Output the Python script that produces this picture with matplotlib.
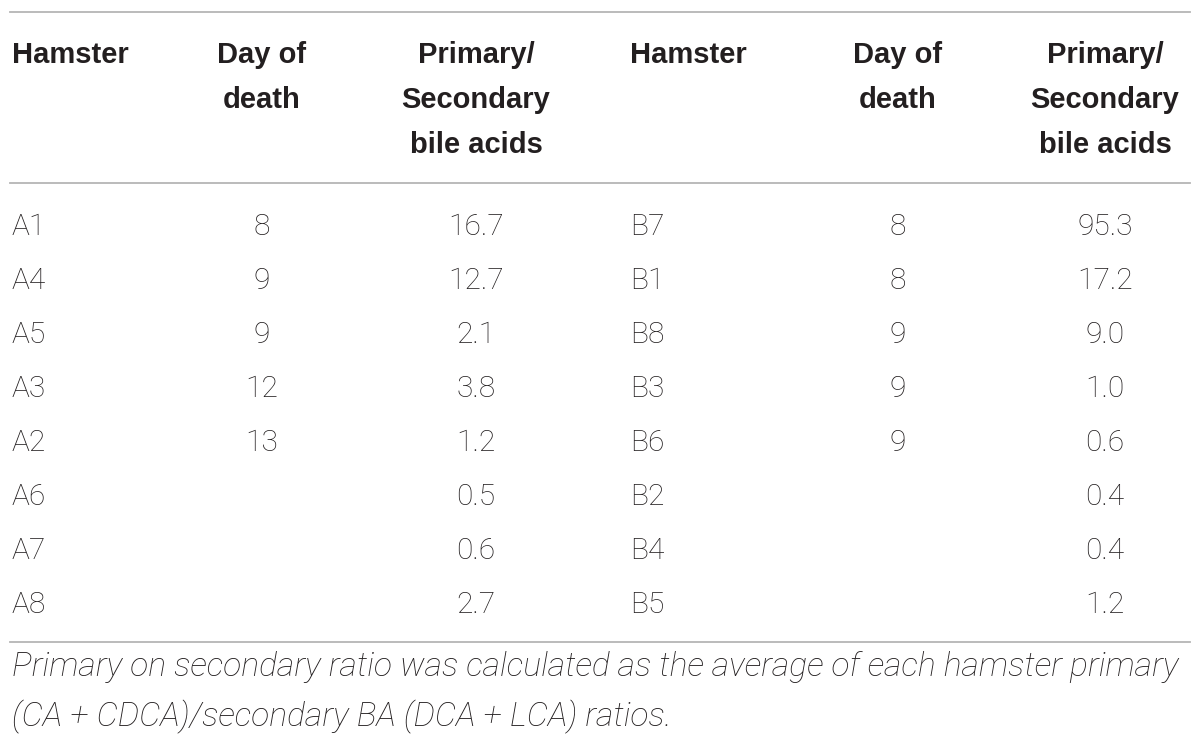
import matplotlib.pyplot as plt

# table content
headers = ["Hamster", "Day of\ndeath", "Primary/\nSecondary\nbile acids",
           "Hamster", "Day of\ndeath", "Primary/\nSecondary\nbile acids"]
hamsters_a = ["A1", "A4", "A5", "A3", "A2", "A6", "A7", "A8"]
death_a = ["8", "9", "9", "12", "13", "", "", ""]
ratio_a = [16.7, 12.7, 2.1, 3.8, 1.2, 0.5, 0.6, 2.7]
hamsters_b = ["B7", "B1", "B8", "B3", "B6", "B2", "B4", "B5"]
death_b = ["8", "8", "9", "9", "9", "", "", ""]
ratio_b = [95.3, 17.2, 9.0, 1.0, 0.6, 0.4, 0.4, 1.2]
footnote = ["Primary on secondary ratio was calculated as the average of each hamster primary",
            "(CA + CDCA)/secondary BA (DCA + LCA) ratios."]

W, H = 1200, 747
fig = plt.figure(figsize=(12, 7.47), dpi=100)
ax = fig.add_axes([0, 0, 1, 1])
ax.set_xlim(0, W)
ax.set_ylim(H, 0)
ax.axis("off")

txt = "#231f20"
line_c = "#b5b5b5"
head_fam = ["Liberation Sans", "DejaVu Sans"]
body_fam = ["Roboto", "DejaVu Sans"]

for y in [12, 183, 642]:
    ax.plot([10, 1190], [y, y], color=line_c, lw=1.3)

# column positions: (x, alignment)
cols = [(12, "left"), (262, "center"), (476, "center"),
        (630, "left"), (898, "center"), (1105, "center")]

# header, one text per line
for (x, ha), h in zip(cols, headers):
    for k, part in enumerate(h.split("\n")):
        ax.text(x, 63 + 45 * k, part, ha=ha, va="baseline", fontsize=21,
                fontweight="bold", color=txt, family=head_fam)

row_y0, dy = 235, 54
for i in range(len(hamsters_a)):
    y = row_y0 + i * dy
    vals = [hamsters_a[i], death_a[i], f"{ratio_a[i]:.1f}",
            hamsters_b[i], death_b[i], f"{ratio_b[i]:.1f}"]
    for (x, ha), v in zip(cols, vals):
        ax.text(x, y, v, ha=ha, va="baseline", fontsize=21.5, fontweight="light",
                color=txt, family=body_fam)

for k, line in enumerate(footnote):
    ax.text(12, 676 + 50 * k, line, ha="left", va="baseline", fontsize=24.2,
            style="italic", fontweight="light", color=txt, family=body_fam)

fig.savefig("out.png", dpi=100)
